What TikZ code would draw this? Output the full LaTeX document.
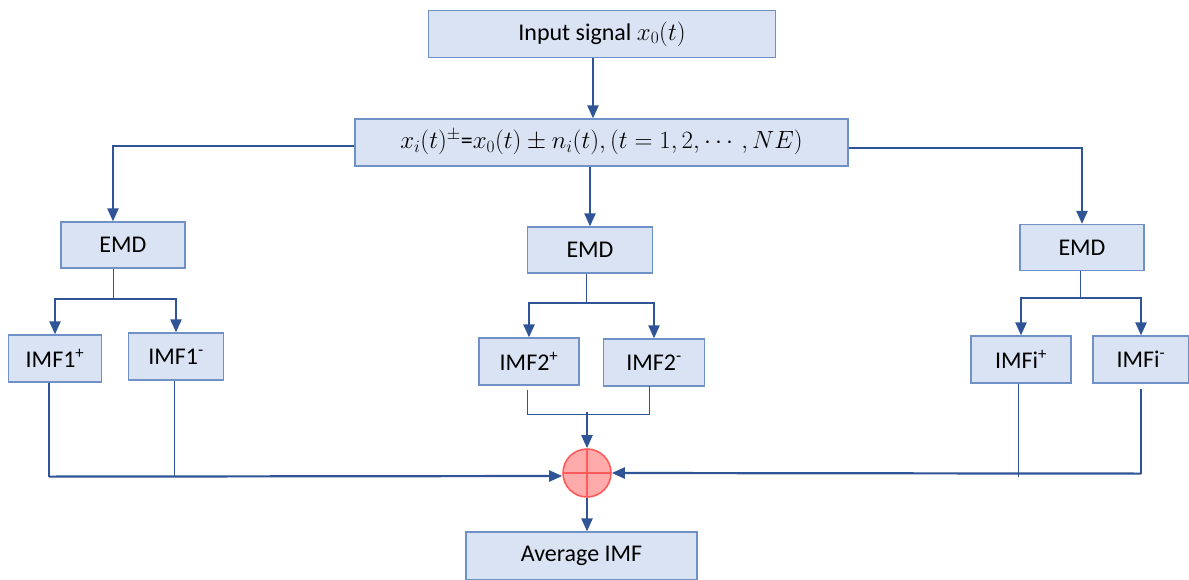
\documentclass[tikz,border=0pt]{standalone}
\usepackage{fontspec}
\setmainfont{Carlito}
\usepackage{xcolor}
\usepackage{amsmath}
\usepackage{tikz}
\usetikzlibrary{arrows.meta}
\definecolor{boxfill}{HTML}{DAE3F3}
\definecolor{boxline}{HTML}{7090C8}
\definecolor{flowline}{HTML}{2F5597}
\definecolor{sumfill}{HTML}{FFABAB}
\definecolor{sumline}{HTML}{FF5B5B}

\begin{document}
\begin{tikzpicture}[x=1pt, y=-1pt,
        font=\fontsize{24}{28}\selectfont,
        box/.style={draw=boxline, fill=boxfill, line width=1.2pt, inner sep=0pt,
            minimum height=47pt},
        flow/.style={draw=flowline, line width=2.2pt,
            -{Triangle[length=13pt, width=11pt]}},
        thinline/.style={draw=flowline, line width=0.9pt},
        stem/.style={draw=flowline, line width=2.2pt}]
    \useasboundingbox (0,0) rectangle (1189,579);
    \node[box, minimum width=347pt] (input) at (602,34) {Input signal $x_0(t)$};
    \node[box, minimum width=493pt] (noise) at (601.5,142.5)
        {$x_i(t)^{\pm}\text{=}x_0(t)\pm n_i(t), (t=1,2,\cdots,NE)$};
    \node[box, minimum width=124pt, minimum height=46pt] (emdA) at (123,245) {EMD};
    \node[box, minimum width=125pt, minimum height=46pt] (emdB) at (590,250) {EMD};
    \node[box, minimum width=124pt, minimum height=46pt] (emdC) at (1082,247.5) {EMD};
    \node[box, minimum width=93pt] (imfAp) at (55,358.5) {IMF1\textsuperscript{+}};
    \node[box, minimum width=95pt] (imfAm) at (176,356.5) {IMF1\textsuperscript{-}};
    \node[box, minimum width=100pt] (imfBp) at (529,361.5) {IMF2\textsuperscript{+}};
    \node[box, minimum width=101pt] (imfBm) at (654,362.5) {IMF2\textsuperscript{-}};
    \node[box, minimum width=100pt] (imfCp) at (1021,359.5) {IMFi\textsuperscript{+}};
    \node[box, minimum width=96pt] (imfCm) at (1141,359.5) {IMFi\textsuperscript{-}};
    \node[circle, draw=sumline, fill=sumfill, line width=1.6pt, minimum size=48pt,
        inner sep=0pt,
        path picture={\draw[sumline, line width=1.6pt]
            (path picture bounding box.north) -- (path picture bounding box.south)
            (path picture bounding box.west) -- (path picture bounding box.east);}]
        (sum) at (587,473) {};
    \node[box, minimum width=231pt, minimum height=48pt] (avg) at (581.5,556) {Average IMF};

    % top part
    \draw[flow] ([xshift=-9pt]input.south) -- ([xshift=-9pt]input.south |- noise.north);
    \draw[flow] ([yshift=-3.5pt]noise.west) -| ([xshift=-10pt]emdA.north);
    \draw[flow] ([yshift=-5.5pt]noise.east) -| (emdC.north);
    \draw[flow] (emdB.north |- noise.south) -- (emdB.north);

    % splitting after EMD
    \draw[thinline] (emdA.south) ++(-10,0) -- ++(0,30) coordinate (jA);
    \draw[flow] (jA) -| (imfAp.north);
    \draw[flow] (jA) -| (imfAm.north);
    \draw[thinline] (emdB.south) ++(-4,0) -- ++(0,29) coordinate (jB);
    \draw[flow] (jB) -| (imfBp.north);
    \draw[flow] (jB) -| (imfBm.north);
    \draw[thinline] (emdC.south) ++(-2,0) -- ++(0,27) coordinate (jC);
    \draw[flow] (jC) -| (imfCp.north);
    \draw[flow] (jC) -| (imfCm.north);

    % collecting into the sum
    \draw[stem] (imfAp.south) ++(-6,0) -- ++(0,94) coordinate (bL);
    \draw[flow] (bL) -- ([yshift=-3pt]sum.west);
    \draw[thinline] (imfAm.south) ++(-2,0) -- ++(0,96);
    \draw[thinline] (imfBp.south) ++(-2,4) -- ++(0,25) -| ([shift={(-5,-1)}]imfBm.south);
    \draw[flow] ([yshift=36pt]sum.north) -- (sum.north);
    \draw[thinline] (imfCp.south) ++(-3,0) -- ++(0,93);
    \draw[stem] (imfCm.south) ++(0,5) -- ++(0,85) coordinate (bR);
    \draw[flow] (bR) -- (sum.east);
    \draw[flow] (sum.south) -- (sum.south |- avg.north);
\end{tikzpicture}
\end{document}
